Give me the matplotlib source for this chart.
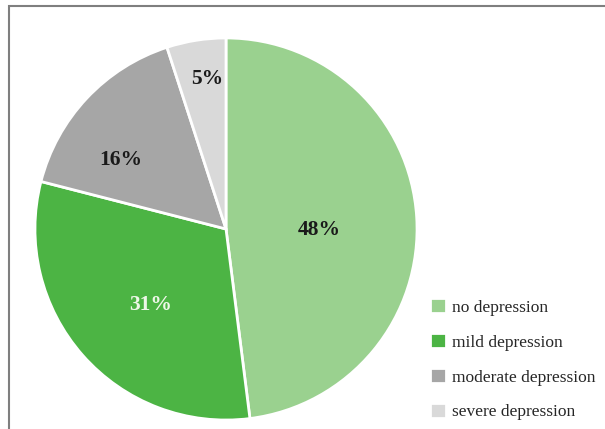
import matplotlib
matplotlib.use("Agg")
import matplotlib.pyplot as plt
import numpy as np
from matplotlib.patches import Rectangle

categories = ["no depression", "mild depression", "moderate depression", "severe depression"]
values = [48, 31, 16, 5]
pct_labels = ["48%", "31%", "16%", "5%"]

colors = ["#9ad18f", "#4cb444", "#a6a6a6", "#d9d9d9"]
label_colors = ["#1a1a1a", "#eef7e8", "#1a1a1a", "#1a1a1a"]
label_radius = [0.49, 0.56, 0.66, 0.79]
label_shift = [-4, 4, 10, -2]  # degrees

fig = plt.figure(figsize=(6.05, 4.29), dpi=100)
# figure border
fig.add_artist(Rectangle((9/605, -0.05), 1.1, (429-6)/429 + 0.05, transform=fig.transFigure,
                         fill=False, edgecolor="#7f7f7f", linewidth=1.5))

ax = fig.add_axes([34/605, 1 - 421/429, 384/605, 384/429])
wedges, _ = ax.pie(values, colors=colors, startangle=90, counterclock=False,
                   wedgeprops=dict(edgecolor="white", linewidth=2))
ax.set_xlim(-1.005, 1.005)
ax.set_ylim(-1.005, 1.005)
ax.set_aspect("equal")

for w, lab, col, r, sh in zip(wedges, pct_labels, label_colors, label_radius, label_shift):
    mid = np.deg2rad((w.theta1 + w.theta2) / 2 + sh)
    ax.text(r * np.cos(mid), r * np.sin(mid), lab, ha="center", va="center",
            fontsize=15.5, fontweight="bold", family="Liberation Serif", color=col)

leg = fig.legend(wedges, categories, loc="lower left", bbox_to_anchor=(414/605, -7/429),
                 frameon=False, prop=dict(family="Liberation Serif", size=12.5),
                 handlelength=0.95, handleheight=0.95, handletextpad=0.35, labelspacing=1.0)
for t in leg.get_texts():
    t.set_color("#262626")

fig.savefig("out.png", dpi=100)
